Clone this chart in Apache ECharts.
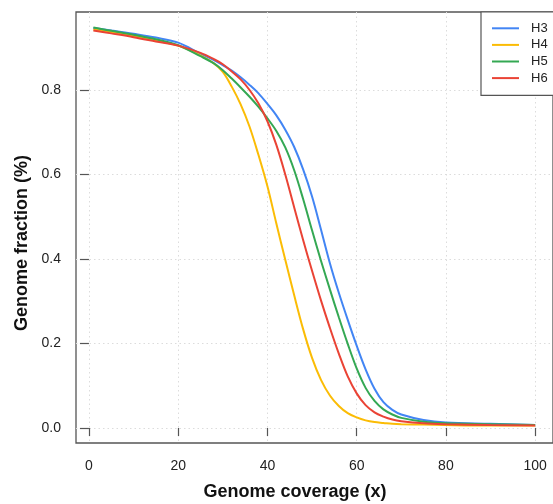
<!DOCTYPE html>
<html>
<head>
<meta charset="utf-8">
<script src="https://cdn.jsdelivr.net/npm/echarts@6/dist/echarts.min.js"></script>
<style>
html,body{margin:0;padding:0;background:#fff;}
#chart{width:553px;height:504px;}
</style>
</head>
<body>
<div id="chart"></div>
<script>
// Genome coverage (x) sample points
const coverage = [1, 5, 10, 15, 20, 25, 28, 30, 32, 34, 36, 38, 40, 42, 44, 46, 48, 50, 52, 54, 56, 58, 60, 62, 64, 66, 68, 70, 75, 80, 90, 100];
// Genome fraction per sample
const H3 = [0.947, 0.941, 0.933, 0.924, 0.912, 0.886, 0.871, 0.859, 0.846, 0.830, 0.812, 0.792, 0.767, 0.740, 0.706, 0.665, 0.612, 0.548, 0.470, 0.390, 0.320, 0.256, 0.195, 0.139, 0.093, 0.061, 0.043, 0.032, 0.019, 0.013, 0.010, 0.007];
const H4 = [0.943, 0.937, 0.928, 0.917, 0.905, 0.882, 0.863, 0.843, 0.808, 0.766, 0.713, 0.646, 0.572, 0.484, 0.398, 0.314, 0.234, 0.166, 0.114, 0.077, 0.052, 0.035, 0.025, 0.018, 0.014, 0.012, 0.010, 0.009, 0.008, 0.007, 0.006, 0.006];
const H5 = [0.948, 0.940, 0.931, 0.920, 0.906, 0.880, 0.863, 0.847, 0.827, 0.806, 0.784, 0.760, 0.733, 0.703, 0.664, 0.610, 0.542, 0.468, 0.396, 0.328, 0.262, 0.199, 0.141, 0.095, 0.064, 0.044, 0.032, 0.024, 0.015, 0.011, 0.009, 0.007];
const H6 = [0.941, 0.934, 0.925, 0.915, 0.905, 0.888, 0.873, 0.861, 0.844, 0.825, 0.800, 0.768, 0.726, 0.670, 0.600, 0.522, 0.445, 0.372, 0.302, 0.237, 0.176, 0.122, 0.082, 0.054, 0.037, 0.027, 0.020, 0.016, 0.011, 0.009, 0.007, 0.006];
const seriesNames = ['H3', 'H4', 'H5', 'H6'];
const seriesValues = [H3, H4, H5, H6];
const colors = ['#4285F4', '#FBBC05', '#34A853', '#EA4335'];
const xTicks = [0, 20, 40, 60, 80, 100];
const yTicks = [0, 0.2, 0.4, 0.6, 0.8];
const xTitle = 'Genome coverage (x)';
const yTitle = 'Genome fraction (%)';

const font = 'Liberation Sans, Arial, Helvetica, sans-serif';
const chart = echarts.init(document.getElementById('chart'), null, {renderer: 'canvas'});

const gridLine = {show: true, lineStyle: {color: '#dcdcdc', width: 1, type: [1.5, 3]}};

chart.setOption({
  animation: false,
  backgroundColor: '#fff',
  grid: {
    left: 76, top: 12, width: 478.7, height: 431,
    show: true, borderColor: '#555', borderWidth: 1.3, backgroundColor: 'transparent'
  },
  legend: {
    show: true,
    data: seriesNames,
    orient: 'vertical',
    left: 481, top: 12,
    padding: [8, 7, 9, 11],
    itemGap: 0,
    itemWidth: 27, itemHeight: 2,
    icon: 'rect',
    borderColor: '#555', borderWidth: 1.2,
    backgroundColor: '#fff',
    textStyle: {fontFamily: font, fontSize: 13, color: '#222', lineHeight: 16.6, padding: [0, 0, 0, 7]}
  },
  xAxis: {
    type: 'value', min: -2.9, max: 104,
    axisLine: {show: false},
    axisTick: {show: true, inside: false, length: 8, customValues: xTicks, lineStyle: {color: '#555', width: 1.2}},
    axisLabel: {customValues: xTicks, margin: 16, fontFamily: font, fontSize: 14, color: '#222'},
    splitLine: gridLine
  },
  yAxis: {
    type: 'value', min: -0.0355, max: 0.9846,
    axisLine: {show: false},
    axisTick: {show: true, inside: false, length: 9, customValues: yTicks, lineStyle: {color: '#555', width: 1.2}},
    axisLabel: {customValues: yTicks, margin: 15, fontFamily: font, fontSize: 14, color: '#222',
      formatter: v => v.toFixed(1)},
    splitLine: gridLine
  },
  graphic: [
    {type: 'text', x: 295, y: 492, style: {text: xTitle, font: 'bold 18px ' + font, fill: '#111', textAlign: 'center', textVerticalAlign: 'middle'}},
    {type: 'text', rotation: Math.PI / 2, x: 22, y: 243, style: {text: yTitle, font: 'bold 18px ' + font, fill: '#111', textAlign: 'center', textVerticalAlign: 'middle'}}
  ],
  series: seriesNames.map((name, i) => ({
    name: name,
    type: 'line',
    data: coverage.map((c, j) => [c, seriesValues[i][j]]),
    showSymbol: false,
    symbol: 'none',
    smooth: 0.35,
    color: colors[i],
    lineStyle: {color: colors[i], width: 2},
    z: 2
  }))
});
</script>
</body>
</html>
